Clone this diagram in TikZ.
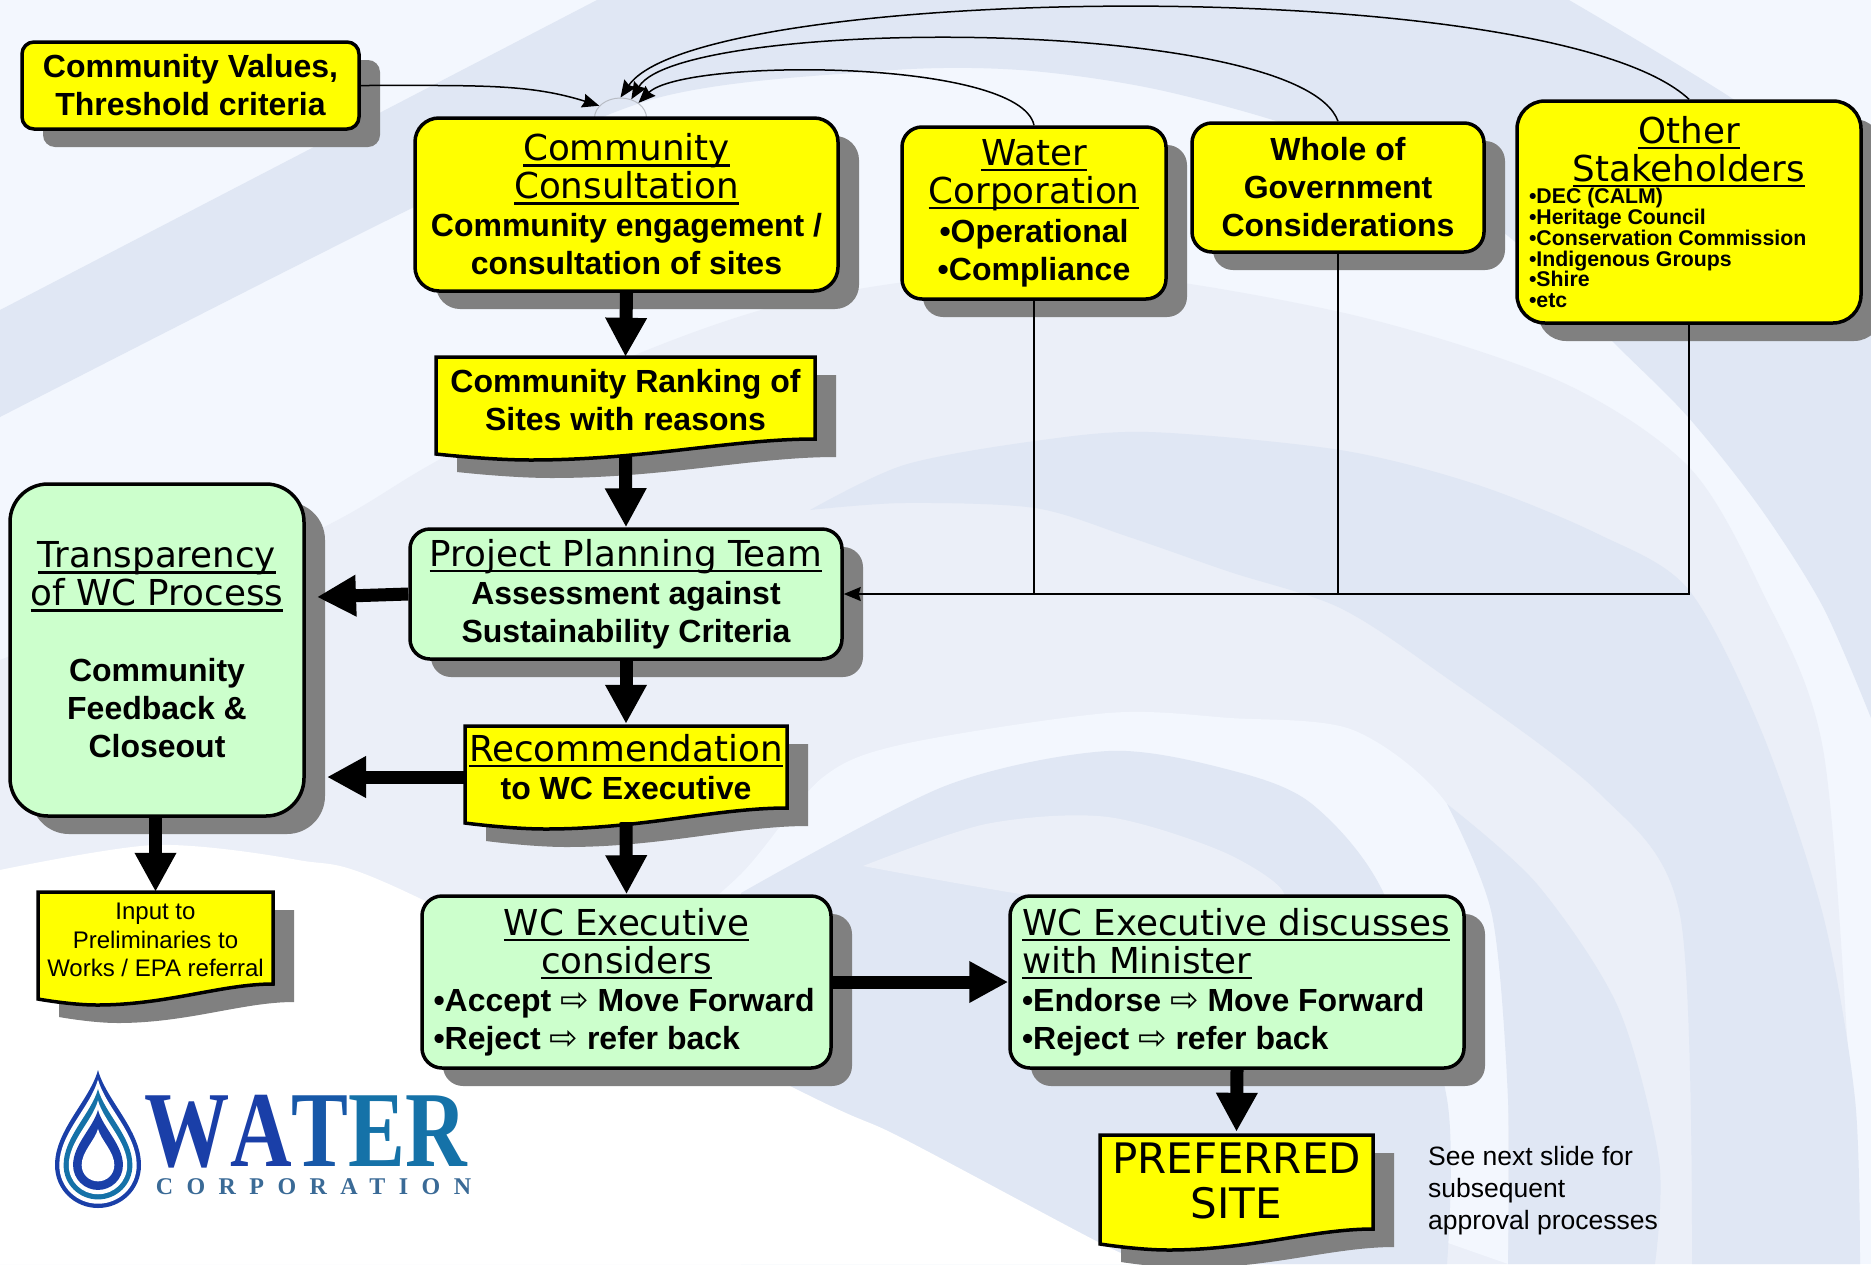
\documentclass[tikz,border=0pt]{standalone}
\usepackage{fontspec}
\usetikzlibrary{arrows.meta,shadows,shapes.geometric}
\setmainfont{Liberation Sans}
\newfontfamily\headfamily{DejaVu Sans}
\newfontfamily\arrowfamily{DejaVu Sans}
\newfontfamily\logofamily{Liberation Serif}
\newfontfamily\logospaced[LetterSpace=56]{Liberation Serif}
\definecolor{bglight}{HTML}{F3F7FE}
\definecolor{bgmid}{HTML}{EBEFF8}
\definecolor{bgdark}{HTML}{E0E7F4}
\definecolor{boxyellow}{HTML}{FFFF00}
\definecolor{boxgreen}{HTML}{CCFFCC}
\definecolor{shadowgray}{HTML}{808080}
\definecolor{sitegray}{HTML}{B8BCC4}
\definecolor{logoblue}{HTML}{1A3FA8}
\definecolor{logoteal}{HTML}{1572A8}
\definecolor{logomid}{HTML}{1758A8}
\definecolor{logosubcol}{HTML}{3A6A96}
\newcommand{\boxhead}[1]{\leavevmode{\headfamily\mdseries\fontsize{35.7}{38}\selectfont\sbox0{#1}\rlap{\usebox0}\rule[-6pt]{\wd0}{2.5pt}}}
\newcommand{\goesto}{{\arrowfamily\mdseries\fontsize{34}{38}\selectfont ⇨}}
\newcommand{\dropath}{(0,-95) .. controls (-8,-65) and (-43,-35) .. (-43,0) .. controls (-43,25) and (-23,43) .. (0,43) .. controls (23,43) and (43,25) .. (43,0) .. controls (43,-35) and (8,-65) .. (0,-95) -- cycle}
\newcommand{\docshape}[4]{%
	\pgfmathsetmacro{\docw}{#3-#1}
	\pgfmathsetmacro{\docl}{#4+15}
	\pgfmathsetmacro{\docz}{#4+21}
	\pgfmathsetmacro{\docca}{#1+.78*\docw}
	\pgfmathsetmacro{\doccb}{#1+.55*\docw}
	\pgfmathsetmacro{\doccc}{#1+.25*\docw}
	\pgfmathsetmacro{\doccd}{#1+.14*\docw}
	\fill[shadowgray, shift={(21,18)}] (#1,#2) -- (#3,#2) -- (#3,#4) .. controls (\docca,#4) and (\doccb,\docz) .. (\doccc,\docz) .. controls (\doccd,\docz) and (#1,\docl) .. (#1,\docl) -- cycle;
	\draw[line width=3.5pt, fill=boxyellow] (#1,#2) -- (#3,#2) -- (#3,#4) .. controls (\docca,#4) and (\doccb,\docz) .. (\doccc,\docz) .. controls (\doccd,\docz) and (#1,\docl) .. (#1,\docl) -- cycle;
}

\begin{document}
\begin{tikzpicture}[x=1pt, y=-1pt,
	bodytext/.style={font=\bfseries\fontsize{32}{38}\selectfont},
	ybox/.style={draw, line width=3.5pt, fill=boxyellow, rounded corners=20pt, align=flush center, inner sep=0pt, bodytext,
		drop shadow={shadow xshift=21pt, shadow yshift=-18pt, opacity=1, fill=shadowgray}},
	gbox/.style={ybox, fill=boxgreen},
	doctext/.style={align=flush center, inner sep=0pt, bodytext},
	thickarrow/.style={line width=13pt, -{Triangle[length=39pt,width=39pt]}},
	thinline/.style={line width=1.5pt},
	thinarrow/.style={line width=1.5pt, -{Stealth[length=17pt,width=14pt,inset=2pt]}}]

	\useasboundingbox (0,0) rectangle (1871,1264);
	\clip (0,0) rectangle (1871,1264);

	% Background swooshes
	\fill[bglight] (0,0) rectangle (1871,1264);
	\fill[bgdark] plot[smooth, tension=.5] coordinates {(0,310) (597,0)} -- (1569,0)
		-- plot[smooth, tension=.5] coordinates {(1569,0) (1733,99) (1871,200)}
		-- plot[smooth, tension=.5] coordinates {(1871,718) (1823,607) (1761,509) (1688,417) (1614,343) (1500,230) (1330,140) (1164,91) (1020,70) (880,71) (650,100) (402,213) (0,417)} -- cycle;
	\fill[bgmid] plot[smooth, tension=.5] coordinates {(0,660) (303,537) (428,466) (600,370) (800,300) (1060,270) (1340,312) (1557,380) (1688,466) (1761,589) (1823,749) (1851,1099) (1860,1264)} -- (0,1264) -- cycle;
	\fill[bgdark] plot[smooth, tension=.5] coordinates {(810,510) (904,465) (1035,441) (1149,432) (1340,450) (1475,484) (1598,534) (1688,589) (1761,730) (1823,915) (1855,1099) (1860,1264)}
		-- plot[smooth, tension=.5] coordinates {(1692,1264) (1680,915) (1598,792) (1434,669) (1338,607) (1230,572) (1129,537) (1035,508) (904,503) (810,510)} -- cycle;
	\fill[bglight] plot[smooth, tension=.5] coordinates {(640,960) (741,874) (822,778) (904,744) (1108,713) (1230,718) (1353,730) (1447,804) (1508,945) (1508,1099) (1508,1264)} -- cycle;
	\fill[bgdark] plot[smooth, tension=.5] coordinates {(741,893) (945,786) (1108,751) (1230,770) (1312,804) (1385,896) (1447,1099) (1447,1264)} -- (741,1264) -- cycle;
	\fill[bgmid] plot[smooth, tension=.5] coordinates {(863,866) (986,824) (1108,817) (1230,855) (1280,900) (1100,905) (863,866)} -- cycle;
	\fill[bgdark] plot[smooth, tension=.5] coordinates {(1447,804) (1537,884) (1618,1007) (1659,1160) (1655,1264)}
		-- plot[smooth, tension=.5] coordinates {(1508,1264) (1508,1099) (1492,915) (1447,804)} -- cycle;
	\fill[white] plot[smooth, tension=.5] coordinates {(0,870) (155,845) (298,860) (402,890) (804,1093) (900,1137) (1100,1243) (1150,1264)} -- (0,1264) -- cycle;

	% Yellow boxes along the top
	\node[ybox, minimum width=337pt, minimum height=87pt, rounded corners=12pt] (cvalues) at (190.5,85.5) {Community Values,\\Threshold criteria};
	\node[ellipse, draw=sitegray, line width=1pt, minimum width=52pt, minimum height=40pt, inner sep=0pt] (site) at (620.5,118) {};
	\node[ybox, minimum width=423pt, minimum height=173pt, rounded corners=24pt] (consult) at (626.5,204.5) {\boxhead{Community}\\\boxhead{Consultation}\\Community engagement /\\consultation of sites};
	\node[ybox, minimum width=264pt, minimum height=172pt] (watercorp) at (1034,213) {\boxhead{Water}\\\boxhead{Corporation}\\[1pt]•Operational\\•Compliance};
	\node[ybox, minimum width=292pt, minimum height=129pt] (wholegov) at (1338,187.5) {Whole of\\Government\\Considerations};
	\node[ybox, minimum width=344pt, minimum height=222pt, rounded corners=28pt, text width=320pt] (others) at (1689,212) {{\centering\boxhead{Other}\\\boxhead{Stakeholders}\par}{\raggedright\fontsize{21.3}{20.8}\selectfont •DEC (CALM)\\•Heritage Council\\•Conservation Commission\\•Indigenous Groups\\•Shire\\•etc\par}};

	% Green boxes
	\node[gbox, minimum width=432pt, minimum height=130pt] (planteam) at (626,594) {\boxhead{Project Planning Team}\\Assessment against\\Sustainability Criteria};
	\node[gbox, minimum width=294pt, minimum height=332pt, rounded corners=38pt] (transp) at (157,650) {\boxhead{Transparency}\\\boxhead{of WC Process}\\[38pt]Community\\Feedback \&\\Closeout};
	\node[gbox, minimum width=409pt, minimum height=172pt, text width=386pt] (wcexec) at (626.5,982) {{\centering\boxhead{WC Executive}\\\boxhead{considers}\par}{\raggedright •Accept \goesto{} Move Forward\\•Reject \goesto{} refer back\par}};
	\node[gbox, minimum width=454pt, minimum height=172pt, text width=430pt, align=flush left] (minister) at (1237,982) {\boxhead{WC Executive discusses}\\\boxhead{with Minister}\\•Endorse \goesto{} Move Forward\\•Reject \goesto{} refer back};

	% Yellow documents
	\docshape{436}{357}{815}{439}
	\node[doctext, minimum width=379pt, minimum height=86pt] (rank) at (625.5,400) {Community Ranking of\\Sites with reasons};
	\docshape{465}{726}{787}{808}
	\node[doctext, minimum width=322pt, minimum height=86pt] (recom) at (626,767) {\boxhead{Recommendation}\\to WC Executive};
	\docshape{38}{892}{273}{984}
	\node[doctext, minimum width=235pt, minimum height=96pt, font=\fontsize{24}{28.5}\selectfont] (inputprelim) at (155.5,940) {Input to\\Preliminaries to\\Works / EPA referral};
	\docshape{1100}{1135}{1373}{1229}
	\node[doctext, minimum width=273pt, minimum height=98pt, font=\headfamily\fontsize{42}{45}\selectfont] (prefsite) at (1236.5,1181) {PREFERRED\\SITE};

	% Side note and logo
	\node[align=flush left, inner sep=0pt, anchor=west, font=\fontsize{26.5}{32}\selectfont] (seenext) at (1428,1190.5) {See next slide for\\subsequent\\approval processes};
	\foreach \dropscale/\dropcol in {1/logoblue,.9/white,.8/logoteal,.68/white,.58/logoblue,.38/white}
		\fill[\dropcol, shift={(98,1165)}, scale=\dropscale] \dropath;
	\node[inner sep=0pt, font=\logofamily\bfseries\fontsize{108}{108}\selectfont] (logoword) at (306,1132) {\scalebox{.79}[1]{\textcolor{logoblue}{W}\textcolor{logoblue}{A}\textcolor{logomid}{T}\textcolor{logoteal}{E}\textcolor{logoteal}{R}}};
	\node[inner sep=0pt, font=\logospaced\bfseries\fontsize{24}{24}\selectfont, text=logosubcol] (logosub) at (313.5,1187) {CORPORATION};

	% Curved feeds into the consultation box
	\draw[thinarrow] (cvalues.east) .. controls +(120,0) and +(-70,-22) .. (site.150);
	\draw[thinarrow] (others.north) .. controls +(-138,-128) and +(78,-114) .. (site.90);
	\draw[thinarrow] (wholegov.north) .. controls +(-38,-106) and +(50,-83) .. (site.60);
	\draw[thinarrow] (watercorp.north) .. controls +(-14,-67) and +(45,-45) .. (site.40);

	% Feedback into the planning team
	\draw[thinarrow] (others.south) |- (planteam.east);
	\draw[thinline] (wholegov.south) -- (wholegov.south |- planteam.east);
	\draw[thinline] (watercorp.south) -- (watercorp.south |- planteam.east);

	% Thick flow arrows
	\coordinate (transpa) at (317,597);
	\coordinate (transpb) at (327,777);
	\draw[thickarrow] (consult.south) -- (rank.north);
	\draw[thickarrow] ([yshift=-12pt]rank.south) -- (planteam.north);
	\draw[thickarrow] (planteam.south) -- (recom.north);
	\draw[thickarrow] ([yshift=-12pt]recom.south) -- (wcexec.north);
	\draw[thickarrow] (planteam.west) -- (transpa);
	\draw[thickarrow] ([yshift=-10pt]recom.west) -- (transpb);
	\draw[thickarrow] (transp.south -| inputprelim.north) -- (inputprelim.north);
	\draw[thickarrow] (wcexec.east) -- (minister.west);
	\draw[thickarrow] (minister.south) -- (prefsite.north);
\end{tikzpicture}
\end{document}
